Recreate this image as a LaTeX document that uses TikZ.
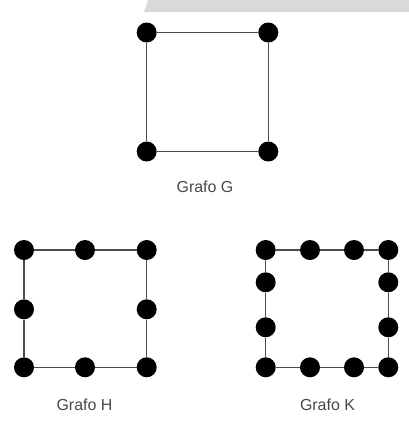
\documentclass[tikz,border=0pt]{standalone}
\usepackage{fontspec}
\setmainfont{Liberation Sans}
\begin{document}
\begin{tikzpicture}[x=1bp,y=-1bp,
  vtx/.style={circle,fill=black,inner sep=0pt,minimum size=20bp},
  edge/.style={draw=black!70,line width=1.5bp},
  lbl/.style={anchor=base,text=black!72,font=\fontsize{16}{18}\selectfont}]
\useasboundingbox (0,0) rectangle (409,421);
\fill[fill={rgb,255:red,217;green,217;blue,219}] (148,0) -- (409,0) -- (409,12) -- (144,12) -- cycle;
% Graph G
\node[vtx] (g1) at (146.7,32.5) {};
\node[vtx] (g2) at (268.3,32.5) {};
\node[vtx] (g3) at (268.3,151.5) {};
\node[vtx] (g4) at (146.7,151.5) {};
\draw[edge] (g1) -- (g2);
\draw[edge] (g2) -- (g3);
\draw[edge] (g3) -- (g4);
\draw[edge] (g4) -- (g1);
\node[lbl] (lg) at (205,192.7) {Grafo G};
% Graph H
\node[vtx] (h1) at (24,250) {};
\node[vtx] (h2) at (85,250) {};
\node[vtx] (h3) at (146.7,250) {};
\node[vtx] (h4) at (146.7,309.3) {};
\node[vtx] (h5) at (146.7,367.3) {};
\node[vtx] (h6) at (85,367.3) {};
\node[vtx] (h7) at (24,367.3) {};
\node[vtx] (h8) at (24,309.3) {};
\foreach \a/\b in {h1/h2,h2/h3,h3/h4,h4/h5,h5/h6,h6/h7,h7/h8,h8/h1}
  \draw[edge] (\a) -- (\b);
\node[lbl] (lh) at (84.5,410) {Grafo H};
% Graph K
\node[vtx] (k1) at (265.7,250) {};
\node[vtx] (k2) at (310,250) {};
\node[vtx] (k3) at (354,250) {};
\node[vtx] (k4) at (388.3,250) {};
\node[vtx] (k5) at (388.3,282.3) {};
\node[vtx] (k6) at (388.3,327.3) {};
\node[vtx] (k7) at (388.3,367.3) {};
\node[vtx] (k8) at (354,367.3) {};
\node[vtx] (k9) at (310,367.3) {};
\node[vtx] (k10) at (265.7,367.3) {};
\node[vtx] (k11) at (265.7,327.3) {};
\node[vtx] (k12) at (265.7,282.3) {};
\foreach \a/\b in {k1/k2,k2/k3,k3/k4,k4/k5,k5/k6,k6/k7,k7/k8,k8/k9,k9/k10,k10/k11,k11/k12,k12/k1}
  \draw[edge] (\a) -- (\b);
\node[lbl] (lk) at (327.5,410) {Grafo K};
\end{tikzpicture}
\end{document}
